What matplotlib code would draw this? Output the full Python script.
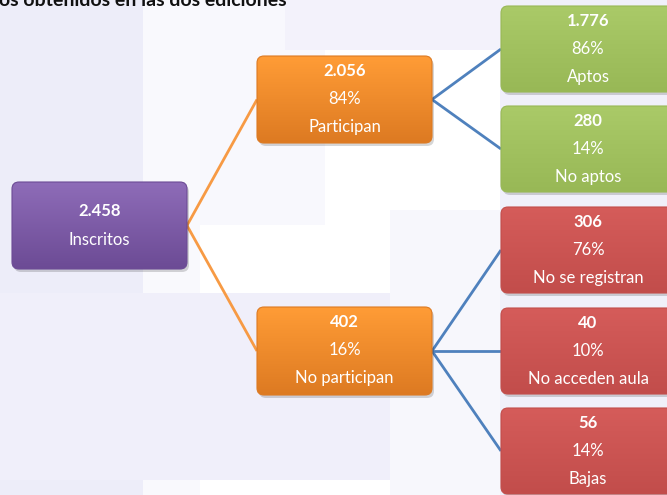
import matplotlib
matplotlib.use("Agg")
import matplotlib.pyplot as plt
import numpy as np
from matplotlib.patches import FancyBboxPatch, Rectangle
import matplotlib.colors as mcolors

plt.rcParams['font.family'] = ['Lato', 'DejaVu Sans']

# ---- data ----
title = "os obtenidos en las dos ediciones"
names = ["Inscritos", "Participan", "No participan", "Aptos", "No aptos",
         "No se registran", "No acceden aula", "Bajas"]
values = ["2.458", "2.056", "402", "1.776", "280", "306", "40", "56"]
percents = [None, "84%", "16%", "86%", "14%", "76%", "10%", "14%"]
parents = [None, 0, 0, 1, 1, 2, 2, 2]

# ---- layout (pixels) ----
W, H = 667, 495
fig = plt.figure(figsize=(W / 100, H / 100), dpi=100)
ax = fig.add_axes([0, 0, 1, 1])
ax.set_xlim(0, W)
ax.set_ylim(H, 0)
ax.axis('off')

# background decoration
bg = [
    (0, 0, 143, 495, '#EDEDF9'),
    (143, 0, 57, 495, '#F9F9FD'),
    (200, 0, 125, 225, '#F8F8FD'),
    (285, 0, 382, 50, '#F3F2FB'),
    (0, 293, 430, 187, '#F0EFFA'),
    (390, 210, 110, 285, '#F7F7FC'),
    (500, 0, 167, 495, '#F0F0FA'),
]
for x, y, w, h, c in bg:
    ax.add_patch(Rectangle((x, y), w, h, color=c, zorder=0, lw=0))

boxes = [
    (12, 182, 175, 87),
    (257, 56, 175, 87),
    (257, 307, 175, 88),
    (501, 6, 176, 86),
    (501, 106, 176, 86),
    (501, 207, 176, 86),
    (501, 308, 176, 86),
    (501, 408, 176, 86),
]
cols = [
    ('#8E6CB8', '#6C4B95'),
    ('#FF9C36', '#DD7A22'),
    ('#FF9C36', '#DD7A22'),
    ('#AACA68', '#98B856'),
    ('#AACA68', '#98B856'),
    ('#D55C5A', '#C24D4B'),
    ('#D55C5A', '#C24D4B'),
    ('#D55C5A', '#C24D4B'),
]
line_cols = {0: '#F79A44', 1: '#4F81BD', 2: '#4F81BD'}

# connectors
for i, p in enumerate(parents):
    if p is None:
        continue
    px, py, pw, ph = boxes[p]
    cx, cy, cw, ch = boxes[i]
    ax.plot([px + pw, cx], [py + ph / 2, cy + ch / 2], color=line_cols[p],
            lw=2, zorder=1, solid_capstyle='butt')

for i, (x, y, w, h) in enumerate(boxes):
    # shadow
    sh = FancyBboxPatch((x + 2, y + 3), w, h, boxstyle="round,pad=0,rounding_size=7",
                        fc='#000000', alpha=0.16, lw=0, zorder=2)
    ax.add_patch(sh)
    patch = FancyBboxPatch((x, y), w, h, boxstyle="round,pad=0,rounding_size=7",
                           fc='none', ec=cols[i][1], lw=0.8, zorder=4)
    ax.add_patch(patch)
    cmap = mcolors.LinearSegmentedColormap.from_list('g', [cols[i][0], cols[i][1]])
    grad = np.linspace(0, 1, 100).reshape(-1, 1)
    im = ax.imshow(grad, cmap=cmap, extent=(x, x + w, y + h, y), aspect='auto',
                   zorder=3, interpolation='bilinear')
    clip = FancyBboxPatch((x, y), w, h, boxstyle="round,pad=0,rounding_size=7",
                          fc='none', lw=0, transform=ax.transData)
    ax.add_patch(clip)
    clip.set_visible(False)
    im.set_clip_path(clip)

    cx = x + w / 2 if i < 3 else x + 87
    fs = 12
    if percents[i] is None:
        ax.text(cx, y + 29, values[i], ha='center', va='center', color='white',
                fontsize=fs, fontweight='bold', zorder=5)
        ax.text(cx, y + 58, names[i], ha='center', va='center', color='white',
                fontsize=fs, zorder=5)
    else:
        ax.text(cx, y + 15, values[i], ha='center', va='center', color='white',
                fontsize=fs, fontweight='bold', zorder=5)
        ax.text(cx, y + 43, percents[i], ha='center', va='center', color='white',
                fontsize=fs, zorder=5)
        ax.text(cx, y + 71, names[i], ha='center', va='center', color='white',
                fontsize=fs, zorder=5)

ax.text(-1, 6, title, ha='left', va='baseline', color='#111111', fontsize=14,
        fontweight='bold', zorder=5)

fig.savefig('out.png', dpi=100)
